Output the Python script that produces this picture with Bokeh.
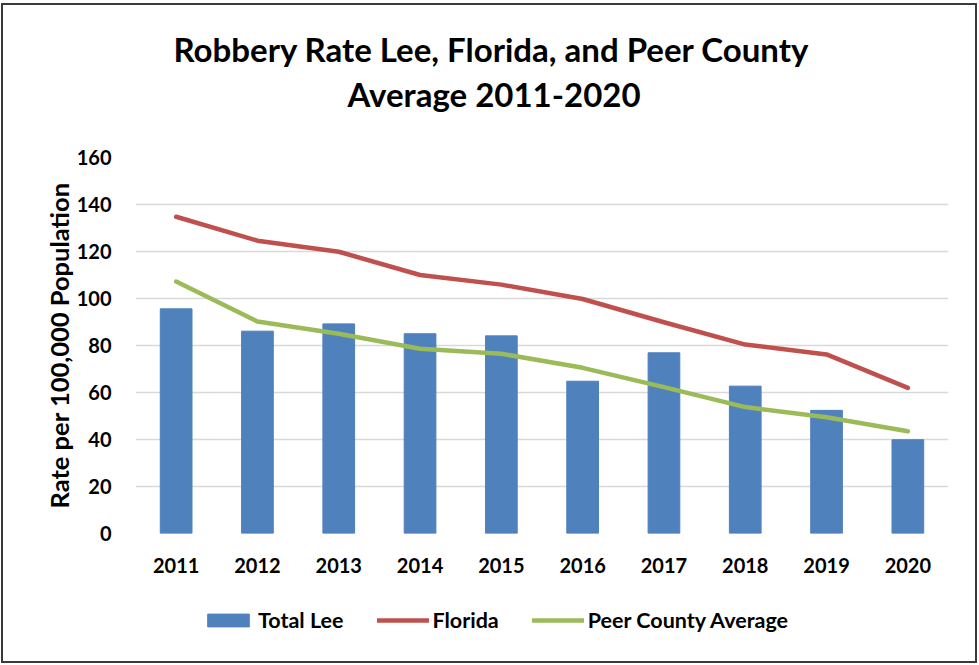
from bokeh.plotting import figure
from bokeh.layouts import column
from bokeh.models import FactorRange, Range1d, Title, Legend, LegendItem, ColumnDataSource
from bokeh.embed import file_html
from bokeh.resources import INLINE

years = ["2011", "2012", "2013", "2014", "2015", "2016", "2017", "2018", "2019", "2020"]
total_lee = [95.6, 86.1, 89.2, 85.0, 84.1, 64.8, 76.9, 62.7, 52.4, 39.9]
florida = [134.8, 124.6, 119.9, 110.0, 105.9, 99.8, 89.9, 80.4, 76.2, 62.0]
peer_avg = [107.2, 90.2, 85.0, 78.6, 76.5, 70.5, 62.3, 53.8, 49.5, 43.5]
y_ticks = [0, 20, 40, 60, 80, 100, 120, 140, 160]

title_line1 = "Robbery Rate Lee, Florida, and Peer County"
title_line2 = "Average 2011-2020"
y_label = "Rate per 100,000 Population"
series_names = ["Total Lee", "Florida", "Peer County Average"]

FONT = "Lato"
BLUE = "#4F81BD"
RED = "#C0504D"
GREEN = "#9BBB59"

src = ColumnDataSource(dict(year=years, lee=total_lee, fl=florida, peer=peer_avg))

p = figure(
    x_range=FactorRange(factors=years, range_padding=0),
    y_range=Range1d(0, 160),
    frame_width=813, frame_height=376,
    min_border_left=132, min_border_right=27,
    min_border_top=152, min_border_bottom=60,
    output_backend="svg", toolbar_location=None,
)

bars = p.vbar(x="year", top="lee", width=0.39, source=src, fill_color=BLUE, line_color=BLUE)
l_fl = p.line(x="year", y="fl", source=src, line_color=RED, line_width=4.5,
              line_cap="round", line_join="round")
l_peer = p.line(x="year", y="peer", source=src, line_color=GREEN, line_width=4.5,
                line_cap="round", line_join="round")

p.outline_line_color = None
p.xgrid.visible = False
p.ygrid.grid_line_color = "#D9D9D9"
p.ygrid.grid_line_width = 1.5
p.yaxis.ticker = y_ticks

for ax in (p.xaxis[0], p.yaxis[0]):
    ax.axis_line_color = None
    ax.major_tick_line_color = None
    ax.minor_tick_line_color = None
    ax.major_label_text_font = FONT
    ax.major_label_text_font_style = "bold"
    ax.major_label_text_font_size = "20px"
    ax.major_label_text_color = "black"

p.xaxis.major_label_standoff = 18
p.yaxis.major_label_standoff = 18
p.yaxis.axis_label = y_label
p.yaxis.axis_label_text_font = FONT
p.yaxis.axis_label_text_font_style = "bold"
p.yaxis.axis_label_text_font_size = "25.5px"
p.yaxis.axis_label_text_color = "black"
p.yaxis.axis_label_standoff = 0

# title lines (nearest to plot first)
p.add_layout(Title(text=title_line2, align="left", offset=212, standoff=88,
                   text_font=FONT, text_font_style="bold", text_font_size="33px",
                   text_color="black"), "above")
p.add_layout(Title(text=title_line1, align="left", offset=38, standoff=-82,
                   text_font=FONT, text_font_style="bold", text_font_size="33px",
                   text_color="black"), "above")

# legend strip below the chart (same series, drawn out of its visible range)
lg = figure(x_range=FactorRange(factors=years), y_range=Range1d(1000, 1100),
            frame_width=972, frame_height=68, min_border=0,
            x_axis_type=None, y_axis_type=None,
            output_backend="svg", toolbar_location=None)
lg.outline_line_color = None
lg.xgrid.visible = False
lg.ygrid.visible = False
g_bar = lg.vbar(x="year", top="lee", width=0.39, source=src, fill_color=BLUE, line_color=BLUE)
g_fl = lg.line(x="year", y="fl", source=src, line_color=RED, line_width=4.5, line_cap="round")
g_peer = lg.line(x="year", y="peer", source=src, line_color=GREEN, line_width=4.5, line_cap="round")

legend = Legend(
    items=[LegendItem(label=series_names[0], renderers=[g_bar]),
           LegendItem(label=series_names[1], renderers=[g_fl]),
           LegendItem(label=series_names[2], renderers=[g_peer])],
    orientation="horizontal", location=(199, 28),
    glyph_width=52, glyph_height=16, label_standoff=4, spacing=33,
    padding=0, margin=0, border_line_color=None, background_fill_alpha=0,
    label_text_font=FONT, label_text_font_style="bold", label_text_font_size="21.5px",
    label_text_color="black",
)
lg.add_layout(legend)

layout = column(p, lg, spacing=0,
                styles={"border": "2px solid #3a3a3a", "margin-top": "3px", "margin-left": "1px"})

open("out.html", "w").write(file_html(layout, INLINE))
